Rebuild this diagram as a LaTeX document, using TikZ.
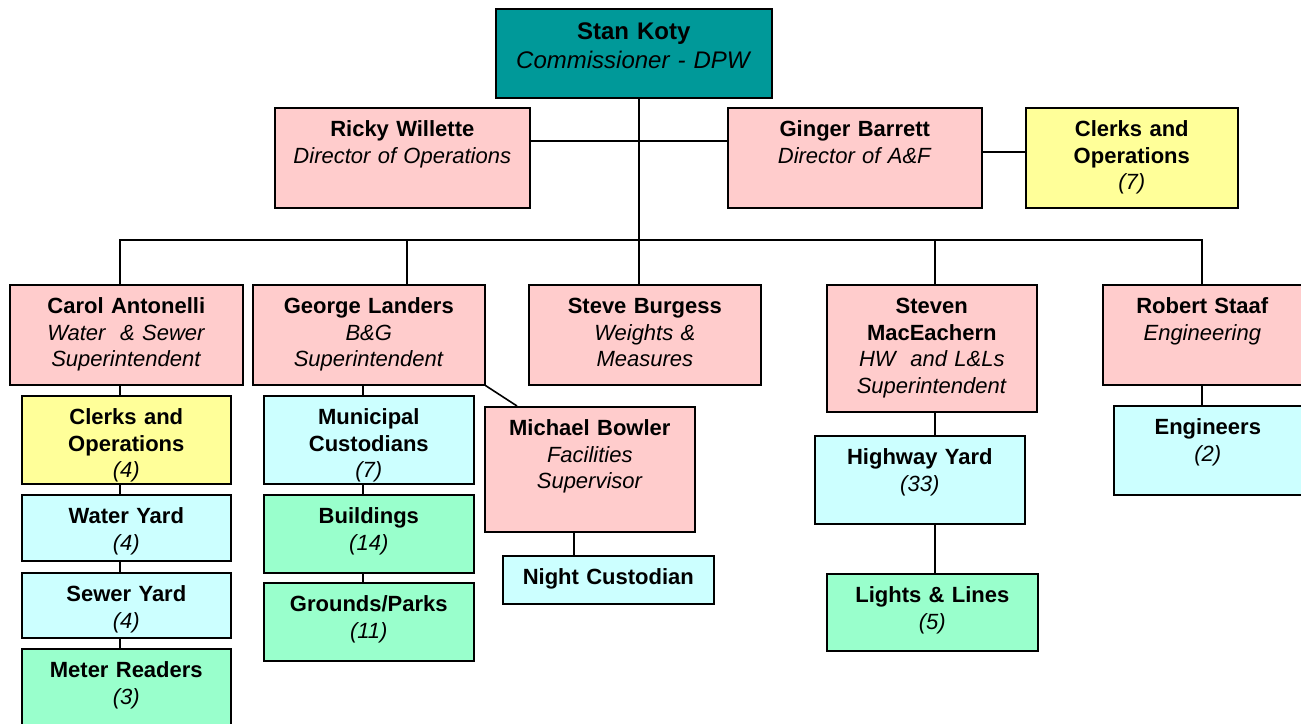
\documentclass[tikz,border=0pt]{standalone}
\usepackage{fontspec}
\setmainfont{Liberation Sans}
\definecolor{tealfill}{RGB}{0,153,153}
\definecolor{pinkfill}{RGB}{255,204,204}
\definecolor{yellowfill}{RGB}{255,255,153}
\definecolor{cyanfill}{RGB}{204,255,255}
\definecolor{greenfill}{RGB}{153,255,204}
\tikzset{
  box/.style={draw, line width=1.6pt, inner sep=0pt, anchor=north west, align=center,
    font=\fontsize{22}{26.5}\selectfont, text height=29pt},
  headbox/.style={box, fill=tealfill, font=\fontsize{24}{29}\selectfont, text height=31pt},
  pinkbox/.style={box, fill=pinkfill},
  yellowbox/.style={box, fill=yellowfill},
  cyanbox/.style={box, fill=cyanfill},
  greenbox/.style={box, fill=greenfill},
  link/.style={line width=1.6pt}
}
\begin{document}
\begin{tikzpicture}[x=1pt,y=-1pt]
    \useasboundingbox (0,0) rectangle (1301,723);
    \coordinate (colA) at (120,0);
    \coordinate (colB) at (363,0);
    \coordinate (colC) at (574,0);
    \coordinate (colT) at (639,0);
    \coordinate (colD) at (935,0);
    \coordinate (colE) at (1202,0);
    \node[headbox, text width=276pt, text depth=58pt] (stan) at (495,8) {\textbf{Stan Koty}\\\textit{Commissioner - DPW}};
    \node[pinkbox, text width=255pt, text depth=71pt] (ricky) at (274,107) {\textbf{Ricky Willette}\\\textit{Director of Operations}};
    \node[pinkbox, text width=254pt, text depth=71pt] (ginger) at (727,107) {\textbf{Ginger Barrett}\\\textit{Director of A\&F}};
    \node[yellowbox, text width=212pt, text depth=71pt] (clerksaf) at (1025,107) {\textbf{Clerks and}\\\textbf{Operations}\\\textit{(7)}};
    \node[pinkbox, text width=233pt, text depth=71pt] (carol) at (9,284) {\textbf{Carol Antonelli}\\\textit{Water\ \ \& Sewer}\\\textit{Superintendent}};
    \node[pinkbox, text width=232pt, text depth=71pt] (george) at (252,284) {\textbf{George Landers}\\\textit{B\&G}\\\textit{Superintendent}};
    \node[pinkbox, text width=232pt, text depth=71pt] (steve) at (528,284) {\textbf{Steve Burgess}\\\textit{Weights \&}\\\textit{Measures}};
    \node[pinkbox, text width=210pt, text depth=98pt] (macE) at (826,284) {\textbf{Steven}\\\textbf{MacEachern}\\\textit{HW\ \ and L\&Ls}\\\textit{Superintendent}};
    \node[pinkbox, text width=199pt, text depth=71pt] (robert) at (1102,284) {\textbf{Robert Staaf}\\\textit{Engineering}};
    \node[yellowbox, text width=209pt, text depth=59pt] (clerks4) at (21,395) {\textbf{Clerks and}\\\textbf{Operations}\\\textit{(4)}};
    \node[cyanbox, text width=209pt, text depth=37pt] (water) at (21,494) {\textbf{Water Yard}\\\textit{(4)}};
    \node[cyanbox, text width=209pt, text depth=36pt] (sewer) at (21,572) {\textbf{Sewer Yard}\\\textit{(4)}};
    \node[greenbox, text width=209pt, text depth=51pt] (meter) at (21,648) {\textbf{Meter Readers}\\\textit{(3)}};
    \node[cyanbox, text width=210pt, text depth=59pt] (municipal) at (263,395) {\textbf{Municipal}\\\textbf{Custodians}\\\textit{(7)}};
    \node[greenbox, text width=210pt, text depth=49pt] (buildings) at (263,494) {\textbf{Buildings}\\\textit{(14)}};
    \node[greenbox, text width=210pt, text depth=49pt] (grounds) at (263,582) {\textbf{Grounds/Parks}\\\textit{(11)}};
    \node[pinkbox, text width=210pt, text depth=96pt] (bowler) at (484,406) {\textbf{Michael Bowler}\\\textit{Facilities}\\\textit{Supervisor}};
    \node[cyanbox, text width=211pt, text depth=19pt] (night) at (502,555) {\textbf{Night Custodian}};
    \node[cyanbox, text width=210pt, text depth=59pt] (highway) at (814,435) {\textbf{Highway Yard}\\\textit{(33)}};
    \node[greenbox, text width=211pt, text depth=48pt] (lights) at (826,573) {\textbf{Lights \& Lines}\\\textit{(5)}};
    \node[cyanbox, text width=188pt, text depth=60pt] (engineers) at (1113,405) {\textbf{Engineers}\\\textit{(2)}};
    \draw[link] (stan.south -| colT) -- (steve.north -| colT);
    \draw[link] ([yshift=-34pt]ricky.north east) -- ([yshift=-34pt]ginger.north west);
    \draw[link] ([yshift=-45pt]ginger.north east) -- ([yshift=-45pt]ginger.north east -| clerksaf.west);
    \draw[link] (carol.north -| colA) -- ++(0,-44) -| (robert.north -| colE);
    \draw[link] ([xshift=155pt]george.north west) -- ++(0,-44);
    \draw[link] (macE.north -| colD) -- ++(0,-44);
    \draw[link] (carol.south -| colA) -- (clerks4.north -| colA);
    \draw[link] (clerks4.south -| colA) -- (water.north -| colA);
    \draw[link] (water.south -| colA) -- (sewer.north -| colA);
    \draw[link] (sewer.south -| colA) -- (meter.north -| colA);
    \draw[link] (george.south -| colB) -- (municipal.north -| colB);
    \draw[link] (municipal.south -| colB) -- (buildings.north -| colB);
    \draw[link] (buildings.south -| colB) -- (grounds.north -| colB);
    \draw[link] (george.south east) -- ([xshift=33pt]bowler.north west);
    \draw[link] (bowler.south -| colC) -- (night.north -| colC);
    \draw[link] (macE.south -| colD) -- (highway.north -| colD);
    \draw[link] (highway.south -| colD) -- (lights.north -| colD);
    \draw[link] (robert.south -| colE) -- (engineers.north -| colE);
\end{tikzpicture}
\end{document}
